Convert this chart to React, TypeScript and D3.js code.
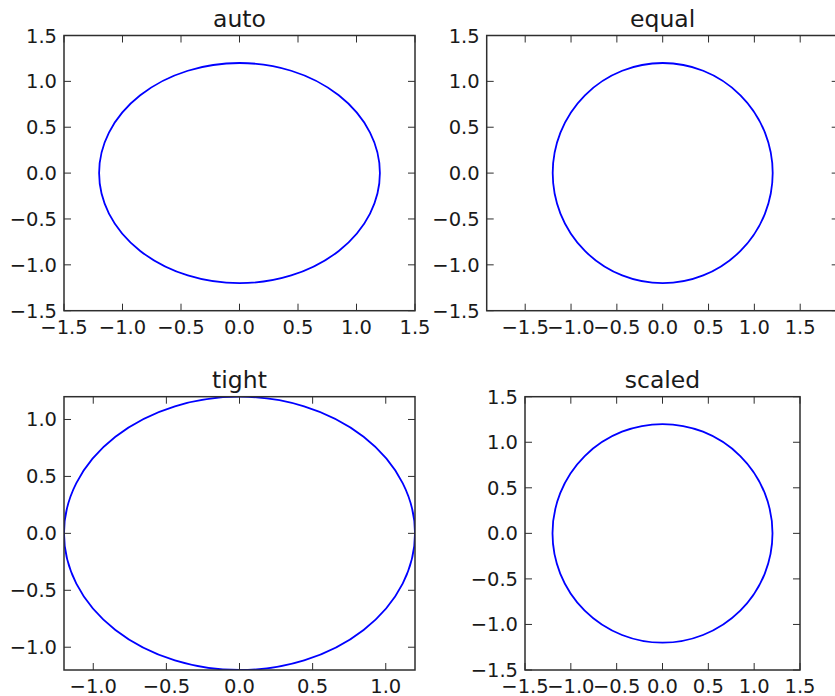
import React from "react";
import * as d3 from "d3";

const W = 835;
const H = 696;

// data
const circleCenter = [0, 0];
const circleRadius = 1.2;
const panelTitles = ["auto", "equal", "tight", "scaled"];
const ticksAuto = [-1.5, -1.0, -0.5, 0.0, 0.5, 1.0, 1.5];
const ticksEqualX = [-1.5, -1.0, -0.5, 0.0, 0.5, 1.0, 1.5];
const ticksEqualY = [-1.5, -1.0, -0.5, 0.0, 0.5, 1.0, 1.5];
const ticksTight = [-1.0, -0.5, 0.0, 0.5, 1.0];
const ticksScaled = [-1.5, -1.0, -0.5, 0.0, 0.5, 1.0, 1.5];
const domainAuto = [-1.5, 1.5];
const domainEqualX = [-1.92, 1.92];
const domainTight = [-1.2, 1.2];

type Panel = {
  title: string;
  x0: number; x1: number; y0: number; y1: number;
  xd: number[]; yd: number[];
  xt: number[]; yt: number[];
};

const panels: Panel[] = [
  { title: panelTitles[0], x0: 64, x1: 415, y0: 35.5, y1: 310.7, xd: domainAuto, yd: domainAuto, xt: ticksAuto, yt: ticksAuto },
  { title: panelTitles[1], x0: 486.7, x1: 838.7, y0: 35.5, y1: 310.7, xd: domainEqualX, yd: domainAuto, xt: ticksEqualX, yt: ticksEqualY },
  { title: panelTitles[2], x0: 64, x1: 415, y0: 396.7, y1: 670, xd: domainTight, yd: domainTight, xt: ticksTight, yt: ticksTight },
  { title: panelTitles[3], x0: 525, x1: 800, y0: 396.7, y1: 670, xd: domainAuto, yd: domainAuto, xt: ticksScaled, yt: ticksScaled },
];

const fmt = (v: number) => d3.format(".1f")(v).replace("-", "\u2212");
const FONT = "'DejaVu Sans', sans-serif";
const TEXT = "#1a1a1a";
const FRAME = "#2e2e2e";
const TICK = 7;

function PanelView({ p, id }: { p: Panel; id: number }) {
  const x = d3.scaleLinear().domain(p.xd).range([p.x0, p.x1]);
  const y = d3.scaleLinear().domain(p.yd).range([p.y1, p.y0]);
  const cx = x(circleCenter[0]);
  const cy = y(circleCenter[1]);
  const rx = x(circleCenter[0] + circleRadius) - cx;
  const ry = cy - y(circleCenter[1] + circleRadius);
  return (
    <g>
      <defs>
        <clipPath id={`clip${id}`}>
          <rect x={p.x0} y={p.y0} width={p.x1 - p.x0} height={p.y1 - p.y0} />
        </clipPath>
      </defs>
      <ellipse cx={cx} cy={cy} rx={rx} ry={ry} fill="none" stroke="#0000ff" strokeWidth={1.8} clipPath={`url(#clip${id})`} />
      {p.xt.map((t) => (
        <g key={"x" + t}>
          <line x1={x(t)} x2={x(t)} y1={p.y1} y2={p.y1 - TICK} stroke={FRAME} strokeWidth={1} />
          <line x1={x(t)} x2={x(t)} y1={p.y0} y2={p.y0 + TICK} stroke={FRAME} strokeWidth={1} />
          <text x={x(t)} y={p.y1 + 23} textAnchor="middle" fontSize={19.5} fontFamily={FONT} fill={TEXT}>{fmt(t)}</text>
        </g>
      ))}
      {p.yt.map((t) => (
        <g key={"y" + t}>
          <line x1={p.x0} x2={p.x0 + TICK} y1={y(t)} y2={y(t)} stroke={FRAME} strokeWidth={1} />
          <line x1={p.x1} x2={p.x1 - TICK} y1={y(t)} y2={y(t)} stroke={FRAME} strokeWidth={1} />
          <text x={p.x0 - 7} y={y(t)} dy="0.36em" textAnchor="end" fontSize={19.5} fontFamily={FONT} fill={TEXT}>{fmt(t)}</text>
        </g>
      ))}
      <rect x={p.x0} y={p.y0} width={p.x1 - p.x0} height={p.y1 - p.y0} fill="none" stroke={FRAME} strokeWidth={1.5} />
      <text x={(p.x0 + p.x1) / 2} y={p.y0 - 8.5} textAnchor="middle" fontSize={23.5} fontFamily={FONT} fill={TEXT}>{p.title}</text>
    </g>
  );
}

export default function App() {
  return (
    <svg width={W} height={H} style={{ position: "absolute", left: 0, top: 0, background: "#fff" }}>
      <rect x={0} y={0} width={W} height={H} fill="#fff" />
      {panels.map((p, i) => (
        <PanelView key={i} p={p} id={i} />
      ))}
    </svg>
  );
}
